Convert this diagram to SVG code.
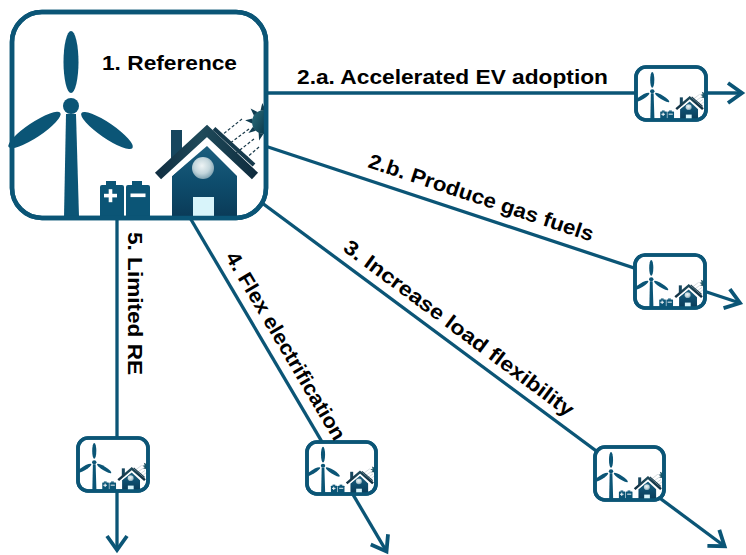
<svg xmlns="http://www.w3.org/2000/svg" xmlns:xlink="http://www.w3.org/1999/xlink" width="746" height="555" viewBox="0 0 746 555">
  <style>
    .frame-big { fill: #ffffff; stroke: #0b5576; stroke-width: 4.5; }
    .frame { fill: #ffffff; stroke: #0b5576; stroke-width: 3.6; }
    .link { fill: none; stroke: #0b5576; stroke-width: 3.3; marker-end: url(#arrow); }
    .lbl { font-family: "Liberation Sans", Arial, sans-serif; font-weight: bold; font-size: 20.5px; fill: #000000; }
    .title { font-family: "Liberation Sans", Arial, sans-serif; font-weight: bold; font-size: 21px; fill: #000000; }
    .beam { stroke: #1a3a4a; stroke-width: 1.2; stroke-dasharray: 3 2; fill: none; }
  </style>
  <defs>
    <marker id="arrow" markerUnits="userSpaceOnUse" markerWidth="30" markerHeight="30" viewBox="-20 -15 30 30" refX="0" refY="0" orient="auto" overflow="visible">
      <path d="M-14,-10 L0,0 L-14,10" fill="none" stroke="#0b5576" stroke-width="3.8" stroke-linejoin="miter"/>
    </marker>
    <linearGradient id="bodyGrad" x1="0" y1="0" x2="0" y2="1">
      <stop offset="0" stop-color="#1c5f7e"/>
      <stop offset="0.5" stop-color="#0e4d6d"/>
      <stop offset="1" stop-color="#0a3a57"/>
    </linearGradient>
    <radialGradient id="winGrad" cx="0.45" cy="0.4" r="0.6">
      <stop offset="0" stop-color="#eef4f5"/>
      <stop offset="0.6" stop-color="#c3d6dc"/>
      <stop offset="1" stop-color="#7fa3b2"/>
    </radialGradient>
    <linearGradient id="roofGrad" x1="0" y1="0" x2="1" y2="0">
      <stop offset="0" stop-color="#112f42"/>
      <stop offset="0.45" stop-color="#1f4a5a"/>
      <stop offset="1" stop-color="#0f2c3e"/>
    </linearGradient>
    <linearGradient id="sunGrad" x1="0" y1="0" x2="1" y2="1">
      <stop offset="0" stop-color="#2a6f7e"/>
      <stop offset="1" stop-color="#0c3a4c"/>
    </linearGradient>

    <!-- wind turbine, batteries, house with solar roof and sun -->
    <symbol id="scene" viewBox="12 12 254 206" preserveAspectRatio="none" overflow="visible">
      <g fill="#0b5576">
        <path d="M66,114 L76,114 L79,217 L64,217 Z"/>
        <ellipse cx="71" cy="62" rx="7.5" ry="31"/>
        <ellipse cx="0" cy="0" rx="31" ry="7.5" transform="translate(34.5,130) rotate(-33.5)"/>
        <ellipse cx="0" cy="0" rx="31" ry="7.5" transform="translate(107,130.5) rotate(34.5)"/>
        <circle cx="71" cy="106" r="8"/>
      </g>
      <g fill="#0b5576">
        <rect x="100" y="185" width="24" height="33" rx="2"/>
        <rect x="106" y="181" width="10" height="5"/>
        <rect x="126" y="185" width="24" height="33" rx="2"/>
        <rect x="132" y="181" width="10" height="5"/>
      </g>
      <g fill="#ffffff">
        <rect x="104" y="193.8" width="13" height="3.6"/>
        <rect x="108.7" y="189.2" width="3.6" height="13"/>
        <rect x="130.5" y="193.5" width="15" height="3.6"/>
      </g>
      <rect x="171" y="130" width="11" height="30" fill="#16465e"/>
      <path d="M172,218 L172,176 L207,146 L237,176 L237,218 Z" fill="url(#bodyGrad)"/>
      <polyline points="165,180 207,142 249,180" fill="none" stroke="#ffffff" stroke-width="3.5"/>
      <polyline points="158,176 207,131 255,176" fill="none" stroke="url(#roofGrad)" stroke-width="9"/>
      <polyline points="214,128.5 254,165" fill="none" stroke="#163a4c" stroke-width="4"/>
      <circle cx="203" cy="168" r="11" fill="url(#winGrad)"/>
      <rect x="193" y="197" width="21" height="21" fill="#d8f4fa"/>
      <path d="M264,110 A12,12 0 0 0 264,134 Z" fill="url(#sunGrad)"/>
      <g fill="#0f3c50">
        <path d="M262.3,103.1 L260.5,110.5 L265.5,110.1 Z"/>
        <path d="M250.6,108.6 L253.9,115.5 L257.5,111.9 Z"/>
        <path d="M245.1,120.3 L252.1,123.5 L252.5,118.5 Z"/>
        <path d="M248.4,132.9 L255.8,130.8 L253,126.7 Z"/>
        <path d="M259.1,140.4 L263.4,134 L258.6,132.7 Z"/>
      </g>
      <line class="beam" x1="242" y1="119" x2="222" y2="135"/>
      <line class="beam" x1="249" y1="129" x2="229" y2="144"/>
      <line class="beam" x1="254" y1="139" x2="236" y2="153"/>
      <line class="beam" x1="259" y1="147" x2="245" y2="159"/>
    </symbol>
  </defs>

  <!-- connectors -->
  <g id="connectors">
    <line class="link" x1="262" y1="93" x2="742" y2="93"/>
    <line class="link" x1="262" y1="145" x2="740" y2="303"/>
    <line class="link" x1="250" y1="194" x2="724.6" y2="546.2"/>
    <line class="link" x1="186" y1="211" x2="386.5" y2="551.4"/>
    <line class="link" x1="117" y1="210" x2="117" y2="550"/>
  </g>

  <!-- scenario nodes -->
  <g id="node-reference">
    <rect class="frame-big" x="12" y="12" width="254" height="206" rx="30"/>
    <use xlink:href="#scene" href="#scene" x="12" y="12" width="254" height="206"/>
    <rect x="12" y="12" width="254" height="206" rx="30" fill="none" stroke="#0b5576" stroke-width="4.5"/>
    <text class="title" x="102" y="70" textLength="135" lengthAdjust="spacingAndGlyphs">1. Reference</text>
  </g>
  <g id="node-ev">
    <rect class="frame" x="636" y="67" width="70" height="53" rx="10"/>
    <use xlink:href="#scene" href="#scene" x="636" y="67" width="70" height="53"/>
    <rect x="636" y="67" width="70" height="53" rx="10" fill="none" stroke="#0b5576" stroke-width="3.6"/>
  </g>
  <g id="node-gas">
    <rect class="frame" x="635" y="255" width="70" height="53" rx="10"/>
    <use xlink:href="#scene" href="#scene" x="635" y="255" width="70" height="53"/>
    <rect x="635" y="255" width="70" height="53" rx="10" fill="none" stroke="#0b5576" stroke-width="3.6"/>
  </g>
  <g id="node-flexibility">
    <rect class="frame" x="595" y="447" width="69" height="53" rx="10"/>
    <use xlink:href="#scene" href="#scene" x="595" y="447" width="69" height="53"/>
    <rect x="595" y="447" width="69" height="53" rx="10" fill="none" stroke="#0b5576" stroke-width="3.6"/>
  </g>
  <g id="node-electrification">
    <rect class="frame" x="307" y="442" width="69" height="52" rx="10"/>
    <use xlink:href="#scene" href="#scene" x="307" y="442" width="69" height="52"/>
    <rect x="307" y="442" width="69" height="52" rx="10" fill="none" stroke="#0b5576" stroke-width="3.6"/>
  </g>
  <g id="node-limited">
    <rect class="frame" x="78" y="438" width="70" height="53" rx="10"/>
    <use xlink:href="#scene" href="#scene" x="78" y="438" width="70" height="53"/>
    <rect x="78" y="438" width="70" height="53" rx="10" fill="none" stroke="#0b5576" stroke-width="3.6"/>
  </g>

  <!-- connector labels -->
  <g id="connector-labels">
    <text class="lbl" x="297" y="84" textLength="311" lengthAdjust="spacingAndGlyphs">2.a. Accelerated EV adoption</text>
    <text class="lbl" transform="translate(367,167) rotate(18.4)" textLength="236" lengthAdjust="spacingAndGlyphs">2.b. Produce gas fuels</text>
    <text class="lbl" transform="translate(342,250) rotate(36.6)" textLength="281" lengthAdjust="spacingAndGlyphs">3. Increase load flexibility</text>
    <text class="lbl" transform="translate(225,257) rotate(59.4)" textLength="215" lengthAdjust="spacingAndGlyphs">4. Flex electrification</text>
    <text class="lbl" transform="translate(128,232) rotate(90)" textLength="143" lengthAdjust="spacingAndGlyphs">5. Limited RE</text>
  </g>
</svg>
